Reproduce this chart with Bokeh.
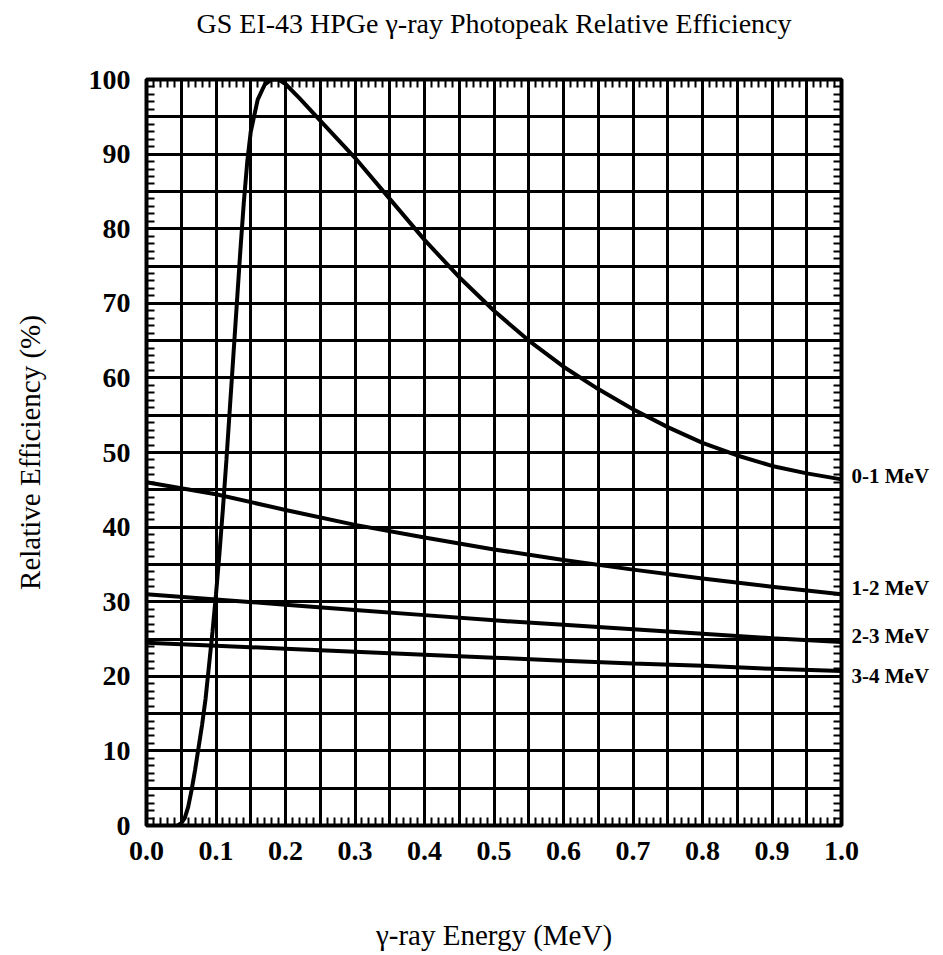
from bokeh.plotting import figure
from bokeh.models import LinearAxis, FixedTicker, Range1d, PrintfTickFormatter
from bokeh.embed import file_html
from bokeh.resources import INLINE

# Photopeak relative efficiency, 0-1 MeV range (energy in MeV, efficiency in %)
energy_0_1 = [0.045, 0.05, 0.055, 0.06, 0.065, 0.07, 0.075, 0.08, 0.085, 0.09,
              0.095, 0.1, 0.105, 0.11, 0.115, 0.12, 0.125, 0.13, 0.135, 0.14,
              0.145, 0.15, 0.16, 0.17, 0.18, 0.19, 0.2, 0.22, 0.25, 0.3, 0.35,
              0.4, 0.45, 0.5, 0.55, 0.6, 0.65, 0.7, 0.75, 0.8, 0.85, 0.9, 0.95, 1.0]
eff_0_1 = [0.0, 0.3, 1.0, 2.5, 4.8, 7.5, 10.5, 13.5, 17.0, 21.5,
           26.0, 31.0, 36.5, 42.5, 49.0, 56.0, 63.0, 70.0, 77.0, 83.5,
           89.0, 93.0, 97.3, 99.3, 100.0, 100.0, 99.4, 97.5, 94.5, 89.5, 84.0,
           78.5, 73.5, 69.0, 65.0, 61.5, 58.5, 55.8, 53.4, 51.3, 49.6, 48.2, 47.2, 46.4]

# Higher ranges: energy axis scaled to each band's span
energy_band = [0.0, 0.1, 0.2, 0.3, 0.4, 0.5, 0.6, 0.7, 0.8, 0.9, 1.0]
eff_1_2 = [46.0, 44.4, 42.3, 40.3, 38.6, 37.0, 35.6, 34.3, 33.1, 32.0, 31.0]
eff_2_3 = [31.0, 30.3, 29.6, 28.9, 28.2, 27.5, 26.9, 26.3, 25.7, 25.1, 24.6]
eff_3_4 = [24.5, 24.1, 23.7, 23.3, 22.9, 22.5, 22.1, 21.7, 21.4, 21.0, 20.7]

band_names = ["0-1 MeV", "1-2 MeV", "2-3 MeV", "3-4 MeV"]
band_label_nudge = [0.4, 0.8, 0.8, -0.7]   # % shifts so the end labels do not collide

title_text = "GS EI-43 HPGe \u03b3-ray Photopeak Relative Efficiency"

x_major = [i / 10 for i in range(11)]
x_minor = [i / 100 for i in range(101)]
x_grid = [i / 20 for i in range(21)]
y_major = list(range(0, 101, 10))
y_minor = list(range(0, 101))
y_grid = list(range(0, 101, 5))

SERIF = "Liberation Serif"

p = figure(width=943, height=955, output_backend="svg", toolbar_location=None,
           x_range=Range1d(0, 1), y_range=Range1d(0, 100),
           x_axis_location=None, y_axis_location=None,
           min_border_left=146, min_border_right=102,
           min_border_top=79, min_border_bottom=130,
           background_fill_color="white", border_fill_color="white")

p.outline_line_color = "black"
p.outline_line_width = 4

# grid every 0.05 MeV and 5 %
p.xgrid.ticker = FixedTicker(ticks=x_grid)
p.ygrid.ticker = FixedTicker(ticks=y_grid)
for g in (p.xgrid, p.ygrid):
    g.grid_line_color = "black"
    g.grid_line_width = 3
    g.grid_line_alpha = 1.0


def make_axis(ticks, minor):
    ax = LinearAxis(ticker=FixedTicker(ticks=ticks, minor_ticks=minor))
    ax.axis_line_color = "black"
    ax.axis_line_width = 3
    ax.major_tick_in = 8
    ax.major_tick_out = 0
    ax.minor_tick_in = 8
    ax.minor_tick_out = 0
    ax.major_tick_line_width = 2
    ax.minor_tick_line_width = 2
    ax.major_tick_line_color = "black"
    ax.minor_tick_line_color = "black"
    ax.major_label_text_font = SERIF
    ax.major_label_text_font_style = "bold"
    ax.major_label_text_color = "black"
    ax.major_label_text_font_size = "28px"
    ax.axis_label_text_font = SERIF
    ax.axis_label_text_font_size = "29px"
    ax.axis_label_text_font_style = "normal"
    ax.axis_label_text_color = "black"
    return ax


bottom = make_axis(x_major, x_minor)
bottom.formatter = PrintfTickFormatter(format="%.1f")
bottom.major_label_standoff = 16
bottom.axis_label = "\u03b3-ray Energy (MeV)"
bottom.axis_label_standoff = 56
p.add_layout(bottom, "below")

# top edge: minor tick marks only, chart title as the axis label
top = make_axis([], x_minor)
top.major_label_standoff = 0
top.axis_label = title_text
top.axis_label_text_font_size = "28px"
top.axis_label_standoff = 41
p.add_layout(top, "above")

left = make_axis(y_major, y_minor)
left.major_label_standoff = 16
left.axis_label = "Relative Efficiency (%)"
left.axis_label_standoff = 40
p.add_layout(left, "left")

# right edge: minor tick marks plus the energy-band names beside each curve end
ends = [eff_0_1[-1], eff_1_2[-1], eff_2_3[-1], eff_3_4[-1]]
label_pos = [round(e + d, 2) for e, d in zip(ends, band_label_nudge)]
right = make_axis(label_pos, y_minor)
right.major_tick_in = 0
right.major_tick_line_alpha = 0
right.major_label_standoff = 10
right.major_label_text_font_size = "21px"
right.major_label_overrides = {v: n for v, n in zip(label_pos, band_names)}
p.add_layout(right, "right")

# efficiency curves
p.line(energy_0_1, eff_0_1, line_color="black", line_width=4)
for ys in (eff_1_2, eff_2_3, eff_3_4):
    p.line(energy_band, ys, line_color="black", line_width=4)

open("out.html", "w").write(file_html(p, INLINE))
